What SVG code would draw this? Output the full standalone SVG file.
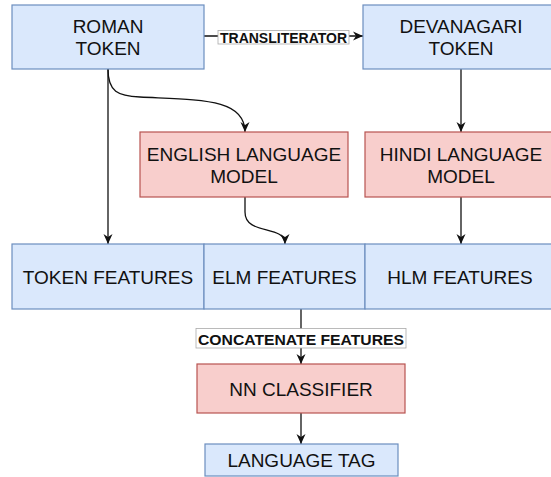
<svg xmlns="http://www.w3.org/2000/svg" width="551" height="477" viewBox="0 0 551 477">
<style>
.blue{fill:#dae8fc;stroke:#6c8ebf;stroke-width:1.2}
.red{fill:#f8cecc;stroke:#b85450;stroke-width:1.2}
.t{font-family:"Liberation Sans",Arial,sans-serif;font-size:19px;fill:#111;text-anchor:middle}
.lbl{font-family:"Liberation Sans",Arial,sans-serif;font-size:14px;font-weight:bold;fill:#111;text-anchor:middle}
.lblbox{fill:#fff;stroke:#aaa;stroke-width:0.8}
.e{fill:none;stroke:#111;stroke-width:1.3}
</style>
<defs>
<marker id="arr" viewBox="0 0 10 10" refX="10" refY="5" markerWidth="10" markerHeight="10" markerUnits="userSpaceOnUse" orient="auto">
<path d="M0,0.5 L10,5 L0,9.5 L3,5 z" fill="#111"/>
</marker>
</defs>
<g id="connectors">
<path class="e" d="M204,36 L363,36" marker-end="url(#arr)"/>
<path class="e" d="M108,69 L108,244" marker-end="url(#arr)"/>
<path class="e" d="M108,69 C108,92 118,96 140,97 C200,100 245,98 245,132" marker-end="url(#arr)"/>
<path class="e" d="M461,69 L461,132" marker-end="url(#arr)"/>
<path class="e" d="M245,197 L245,212 C245,236 285,224 285,244" marker-end="url(#arr)"/>
<path class="e" d="M461,197 L461,244" marker-end="url(#arr)"/>
<path class="e" d="M301,309 L301,364" marker-end="url(#arr)"/>
<path class="e" d="M301,413 L301,444" marker-end="url(#arr)"/>
<g id="label-transliterator">
<rect class="lblbox" x="218" y="30.5" width="131" height="13.5"/>
<text class="lbl" x="283.5" y="42.5" textLength="127" lengthAdjust="spacingAndGlyphs">TRANSLITERATOR</text>
</g>
<g id="label-concatenate">
<rect class="lblbox" x="196" y="328.5" width="210" height="19.5"/>
<text class="lbl" x="301" y="345" style="font-size:15px" textLength="206" lengthAdjust="spacingAndGlyphs">CONCATENATE FEATURES</text>
</g>
</g>
<g id="roman-token">
<rect class="blue" x="12" y="5" width="192" height="64"/>
<text class="t" x="108" y="33">ROMAN</text>
<text class="t" x="108" y="55">TOKEN</text>
</g>
<g id="devanagari-token">
<rect class="blue" x="363" y="5" width="196" height="64"/>
<text class="t" x="461" y="33">DEVANAGARI</text>
<text class="t" x="461" y="55">TOKEN</text>
</g>
<g id="english-lm">
<rect class="red" x="140" y="132" width="208" height="65"/>
<text class="t" x="244" y="161">ENGLISH LANGUAGE</text>
<text class="t" x="244" y="183">MODEL</text>
</g>
<g id="hindi-lm">
<rect class="red" x="365" y="132" width="194" height="65"/>
<text class="t" x="461" y="161">HINDI LANGUAGE</text>
<text class="t" x="461" y="183">MODEL</text>
</g>
<g id="token-features">
<rect class="blue" x="12" y="244" width="192" height="65"/>
<text class="t" x="108" y="284">TOKEN FEATURES</text>
</g>
<g id="elm-features">
<rect class="blue" x="204" y="244" width="161" height="65"/>
<text class="t" x="284.5" y="284">ELM FEATURES</text>
</g>
<g id="hlm-features">
<rect class="blue" x="365" y="244" width="194" height="65"/>
<text class="t" x="460" y="284">HLM FEATURES</text>
</g>
<g id="nn-classifier">
<rect class="red" x="197" y="364" width="208" height="49"/>
<text class="t" x="301" y="396">NN CLASSIFIER</text>
</g>
<g id="language-tag">
<rect class="blue" x="205" y="444" width="193" height="32"/>
<text class="t" x="301.5" y="467">LANGUAGE TAG</text>
</g>
</svg>
